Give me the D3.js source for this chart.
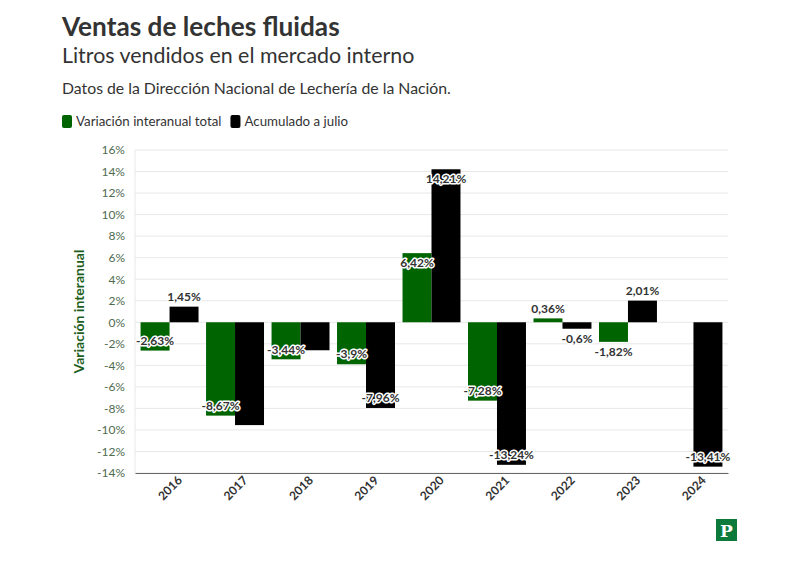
<!DOCTYPE html>
<html>
<head>
<meta charset="utf-8">
<script src="https://cdn.jsdelivr.net/npm/d3@7"></script>
<style>
  body { margin:0; background:#fff; }
  svg { font-family: Lato, "Noto Sans", sans-serif; }
</style>
</head>
<body>
<svg id="chart" width="788" height="567"></svg>
<script>
const years = ["2016","2017","2018","2019","2020","2021","2022","2023","2024"];
const seriesNames = ["Variación interanual total","Acumulado a julio"];
const totalValues = [-2.63, -8.67, -3.44, -3.9, 6.42, -7.28, 0.36, -1.82, null];
const julyValues  = [1.45, -9.55, -2.6, -7.96, 14.21, -13.24, -0.6, 2.01, -13.41];
const totalLabels = ["-2,63%","-8,67%","-3,44%","-3,9%","6,42%","-7,28%","0,36%","-1,82%",null];
const julyLabels  = ["1,45%",null,null,"-7,96%","14,21%","-13,24%","-0,6%","2,01%","-13,41%"];
const yTicks = [-14,-12,-10,-8,-6,-4,-2,0,2,4,6,8,10,12,14,16];
const colors = ["#006400", "#000000"];

const svg = d3.select("#chart");
const margin = {left:135, right:60, top:150, bottom:94};
const W = 788, H = 567;

// Titles
svg.append("text").attr("x",62).attr("y",36).attr("fill","#333")
  .attr("font-size",26.2).attr("font-weight",700).text("Ventas de leches fluidas");
svg.append("text").attr("x",62).attr("y",63).attr("fill","#333")
  .attr("font-size",21.4).text("Litros vendidos en el mercado interno");
svg.append("text").attr("x",62).attr("y",94).attr("fill","#333")
  .attr("font-size",15.8).text("Datos de la Dirección Nacional de Lechería de la Nación.");

// Legend
const leg = svg.append("g");
let lx = 62;
seriesNames.forEach((n,i)=>{
  leg.append("rect").attr("x",lx).attr("y",115).attr("width",10).attr("height",13)
    .attr("rx",2).attr("fill",colors[i]);
  const t = leg.append("text").attr("x",lx+14).attr("y",126).attr("font-size",13.3)
    .attr("fill","#333").text(n);
  lx += 14 + t.node().getComputedTextLength() + 9;
});

const x = d3.scaleBand().domain(years).range([margin.left, W-margin.right])
  .paddingInner(0.115).paddingOuter(0.085);
const xs = d3.scaleBand().domain([0,1]).range([0, x.bandwidth()]);
const y = d3.scaleLinear().domain([-14,16]).range([H-margin.bottom, margin.top]);

// gridlines
svg.append("g").selectAll("line").data(yTicks).join("line")
  .attr("x1",margin.left).attr("x2",W-margin.right)
  .attr("y1",d=>y(d)).attr("y2",d=>y(d))
  .attr("stroke","#e8e8e8").attr("stroke-width",1);
svg.append("line").attr("x1",margin.left).attr("x2",margin.left)
  .attr("y1",y(16)).attr("y2",y(-14)).attr("stroke","#e8e8e8");

// y axis
const yAxis = d3.axisLeft(y).tickValues(yTicks).tickFormat(d=>d+"%").tickSize(0).tickPadding(10);
const ya = svg.append("g").attr("transform",`translate(${margin.left},0)`).call(yAxis);
ya.select(".domain").remove();
ya.selectAll("text").attr("font-size",12).attr("fill","#4f6b4f").attr("font-family","Lato, 'Noto Sans', sans-serif");

svg.append("text").attr("transform",`translate(84,${(y(16)+y(-14))/2}) rotate(-90)`)
  .attr("text-anchor","middle").attr("font-size",14).attr("font-weight",700)
  .attr("fill","#1d5e1d").text("Variación interanual");

// bars
const series = [totalValues, julyValues];
const labels = [totalLabels, julyLabels];
series.forEach((vals,si)=>{
  svg.append("g").selectAll("rect").data(vals.map((v,i)=>({v,i})).filter(d=>d.v!=null)).join("rect")
    .attr("x",d=>x(years[d.i])+xs(si))
    .attr("width",xs.bandwidth())
    .attr("y",d=>Math.min(y(d.v),y(0)))
    .attr("height",d=>Math.abs(y(d.v)-y(0)))
    .attr("fill",colors[si]);
});

// x axis
const xAxis = d3.axisBottom(x).tickSize(0).tickPadding(8);
const xa = svg.append("g").attr("transform",`translate(0,${y(-14)})`).call(xAxis);
xa.select(".domain").attr("stroke","#666");
xa.selectAll("text").attr("font-size",12).attr("font-weight",700).attr("fill","#333")
  .attr("font-family","Lato, 'Noto Sans', sans-serif")
  .attr("text-anchor","end").attr("dx","0.3em").attr("dy","0.6em")
  .attr("transform","rotate(-45)");

// labels
series.forEach((vals,si)=>{
  const data = vals.map((v,i)=>({v,i,l:labels[si][i]})).filter(d=>d.v!=null && d.l);
  svg.append("g").selectAll("text").data(data).join("text")
    .attr("x",d=>x(years[d.i])+xs(si)+xs.bandwidth()/2)
    .attr("y",d=>{
      const len = Math.abs(y(d.v)-y(0));
      const inside = len > 22;
      const end = y(d.v);
      if (d.v >= 0) return inside ? end+10 : end-10;
      return inside ? end-10 : end+10;
    })
    .attr("dy","0.35em")
    .attr("text-anchor","middle").attr("font-size",12).attr("font-weight",700)
    .attr("fill","#333").attr("stroke","#fff").attr("stroke-width",3)
    .attr("stroke-linejoin","round").attr("paint-order","stroke")
    .text(d=>d.l);
});

// logo
svg.append("rect").attr("x",716).attr("y",519).attr("width",21).attr("height",22).attr("fill","#0b7a3b");
svg.append("text").attr("x",726.5).attr("y",537).attr("text-anchor","middle")
  .attr("font-family","'DejaVu Serif', 'Liberation Serif', serif").attr("font-weight",700)
  .attr("font-size",17).attr("fill","#fff").text("P");
</script>
</body>
</html>
